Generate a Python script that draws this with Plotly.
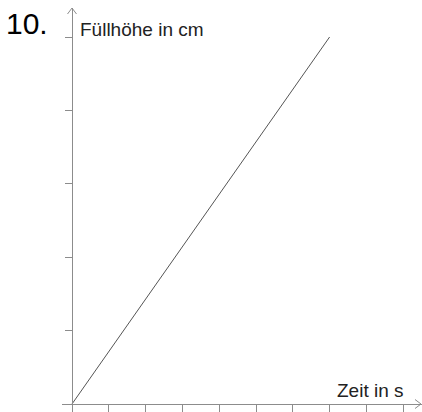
import plotly.graph_objects as go

# Data
zeit = [0, 7]          # x ticks units (s)
hoehe = [0, 5]         # y tick units (cm)
x_ticks = list(range(0, 10))
y_ticks = list(range(1, 6))

W, H = 422, 412
ox, oy = 72, 404          # origin pixel
dx, dy = 36.8, 73.4       # pixel per unit
x_left_px, x_right_px = 62, 422
y_bottom_px, y_top_px = 412, 8

x_range = [(x_left_px - ox) / dx, (x_right_px - ox) / dx]
y_range = [(oy - y_bottom_px) / dy, (oy - y_top_px) / dy]

axis_col = "#8c8c8c"
font_fam = "Liberation Sans, Arial, sans-serif"

fig = go.Figure()
fig.add_trace(go.Scatter(x=zeit, y=hoehe, mode="lines",
                         line=dict(color="#555555", width=1),
                         hoverinfo="skip", showlegend=False))

fig.update_layout(
    width=W, height=H, autosize=False,
    margin=dict(l=0, r=0, t=0, b=0),
    paper_bgcolor="white", plot_bgcolor="white",
    xaxis=dict(domain=[x_left_px / W, 1], range=x_range,
               anchor="free", position=(H - oy) / H,
               showline=True, linecolor=axis_col, linewidth=1,
               ticks="outside", ticklen=7, tickcolor=axis_col, tickwidth=1,
               tickvals=x_ticks, showticklabels=False,
               showgrid=False, zeroline=False, fixedrange=True),
    yaxis=dict(domain=[0, (H - y_top_px) / H], range=y_range,
               anchor="free", position=ox / W,
               showline=True, linecolor=axis_col, linewidth=1,
               ticks="outside", ticklen=7, tickcolor=axis_col, tickwidth=1,
               tickvals=y_ticks, showticklabels=False,
               showgrid=False, zeroline=False, fixedrange=True),
)

# arrowheads (open chevrons) at axis ends
xa_end = x_range[1]
ya_end = y_range[1]
shapes = []
for sgn in (1, -1):
    shapes.append(dict(type="line", xref="x", yref="y",
                       xsizemode="pixel", ysizemode="pixel",
                       xanchor=xa_end, yanchor=0,
                       x0=-1, y0=0, x1=-7, y1=4.5 * sgn,
                       line=dict(color=axis_col, width=1)))
    shapes.append(dict(type="line", xref="x", yref="y",
                       xsizemode="pixel", ysizemode="pixel",
                       xanchor=0, yanchor=ya_end,
                       x0=0, y0=0, x1=4.5 * sgn, y1=-6,
                       line=dict(color=axis_col, width=1)))
fig.update_layout(shapes=shapes)

fig.add_annotation(text="10.", xref="paper", yref="paper",
                   x=4 / W, y=1 - 5 / H, xanchor="left", yanchor="top",
                   showarrow=False, font=dict(family=font_fam, size=30, color="#000000"))
fig.add_annotation(text="Füllhöhe in cm", xref="paper", yref="paper",
                   x=78 / W, y=1 - 17 / H, xanchor="left", yanchor="top",
                   showarrow=False, font=dict(family=font_fam, size=19, color="#222222"))
fig.add_annotation(text="Zeit in s", xref="paper", yref="paper",
                   x=406 / W, y=1 - 378 / H, xanchor="right", yanchor="top",
                   showarrow=False, font=dict(family=font_fam, size=19, color="#222222"))

fig.write_html("out.html", config={"displayModeBar": False},
               post_script="document.body.style.margin='0';document.body.style.overflow='hidden';")
